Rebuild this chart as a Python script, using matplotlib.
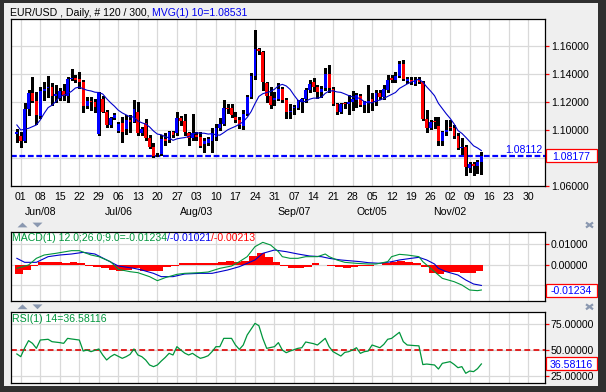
import matplotlib
matplotlib.use("Agg")
import matplotlib.pyplot as plt
from matplotlib.lines import Line2D
from matplotlib.patches import Rectangle, Polygon
import numpy as np
import pandas as pd

plt.rcParams["font.family"] = ["Liberation Sans", "DejaVu Sans"]
FS = 7.6
W, H = 606, 392

# ---------------- data ----------------
# trading-day axis: bar 0 = 2015-05-29, empty business days continue to the right edge
dates = pd.bdate_range("2015-05-29", periods=136)

opens = [1.0969, 1.0957, 1.0924, 1.1150, 1.1262, 1.1207, 1.1103, 1.1279, 1.1298, 1.1310,
         1.1245, 1.1226, 1.1279, 1.1245, 1.1364, 1.1369, 1.1364, 1.1341, 1.1174, 1.1205,
         1.1198, 1.0972, 1.1222, 1.1126, 1.1036, 1.1088, 1.0993, 1.1050, 1.1005, 1.1072,
         1.1060, 1.1126, 1.0981, 1.1048, 1.0941, 1.0879, 1.0826, 1.0826, 1.0936, 1.0929,
         1.0983, 1.0976, 1.1083, 1.1064, 1.0976, 1.0941, 1.0964, 1.0953, 1.0903, 1.0905,
         1.0922, 1.0953, 1.1012, 1.1043, 1.1160, 1.1155, 1.1095, 1.1072, 1.1031, 1.1114,
         1.1238, 1.1386, 1.1579, 1.1560, 1.1333, 1.1245, 1.1214, 1.1222, 1.1293, 1.1214,
         1.1126, 1.1155, 1.1160, 1.1202, 1.1222, 1.1286, 1.1340, 1.1310, 1.1274, 1.1302,
         1.1398, 1.1293, 1.1186, 1.1126, 1.1191, 1.1183, 1.1202, 1.1214, 1.1245, 1.1179,
         1.1195, 1.1222, 1.1198, 1.1262, 1.1238, 1.1286, 1.1374, 1.1355, 1.1388, 1.1469,
         1.1350, 1.1357, 1.1331, 1.1355, 1.1340, 1.1079, 1.1017, 1.1064, 1.1029, 1.0922,
         1.0988, 1.1022, 1.1012, 1.0960, 1.0869, 1.0881, 1.0731, 1.0760, 1.0743, 1.0769]
highs = [1.1007, 1.0983, 1.1191, 1.1286, 1.1381, 1.1274, 1.1310, 1.1345, 1.1388, 1.1333,
         1.1321, 1.1298, 1.1326, 1.1381, 1.1436, 1.1393, 1.1417, 1.1357, 1.1238, 1.1238,
         1.1222, 1.1274, 1.1245, 1.1143, 1.1093, 1.1119, 1.1055, 1.1095, 1.1107, 1.1107,
         1.1214, 1.1202, 1.1024, 1.1076, 1.0964, 1.0905, 1.0838, 1.0964, 1.0976, 1.0993,
         1.0993, 1.1126, 1.1103, 1.1112, 1.0988, 1.1112, 1.0988, 1.0988, 1.0941, 1.0953,
         1.1012, 1.1045, 1.1083, 1.1214, 1.1183, 1.1183, 1.1126, 1.1095, 1.1143, 1.1250,
         1.1405, 1.1714, 1.1586, 1.1567, 1.1345, 1.1310, 1.1274, 1.1333, 1.1310, 1.1226,
         1.1183, 1.1179, 1.1214, 1.1226, 1.1298, 1.1357, 1.1369, 1.1321, 1.1317, 1.1440,
         1.1464, 1.1310, 1.1191, 1.1191, 1.1198, 1.1250, 1.1279, 1.1262, 1.1255, 1.1207,
         1.1321, 1.1262, 1.1286, 1.1286, 1.1321, 1.1393, 1.1393, 1.1417, 1.1493, 1.1500,
         1.1381, 1.1381, 1.1381, 1.1381, 1.1350, 1.1143, 1.1072, 1.1095, 1.1095, 1.0993,
         1.1072, 1.1072, 1.1036, 1.0976, 1.0941, 1.0893, 1.0774, 1.0774, 1.0786, 1.0845]
lows = [1.0917, 1.0881, 1.0917, 1.1107, 1.1202, 1.1041, 1.1083, 1.1214, 1.1238, 1.1179,
        1.1200, 1.1214, 1.1214, 1.1200, 1.1357, 1.1345, 1.1298, 1.1131, 1.1155, 1.1143,
        1.1126, 1.0964, 1.1126, 1.1024, 1.1024, 1.1079, 1.0988, 1.0912, 1.0969, 1.0988,
        1.1055, 1.0964, 1.0964, 1.0929, 1.0869, 1.0810, 1.0812, 1.0822, 1.0893, 1.0917,
        1.0953, 1.0964, 1.1036, 1.0964, 1.0893, 1.0929, 1.0929, 1.0881, 1.0845, 1.0893,
        1.0845, 1.0929, 1.1000, 1.1036, 1.1119, 1.1095, 1.1060, 1.1012, 1.1007, 1.1107,
        1.1226, 1.1364, 1.1545, 1.1286, 1.1202, 1.1155, 1.1179, 1.1214, 1.1198, 1.1083,
        1.1083, 1.1112, 1.1150, 1.1126, 1.1202, 1.1274, 1.1279, 1.1226, 1.1238, 1.1286,
        1.1274, 1.1179, 1.1112, 1.1119, 1.1155, 1.1112, 1.1143, 1.1167, 1.1174, 1.1131,
        1.1131, 1.1143, 1.1179, 1.1222, 1.1222, 1.1274, 1.1341, 1.1345, 1.1381, 1.1357,
        1.1333, 1.1326, 1.1321, 1.1333, 1.1072, 1.0988, 1.1007, 1.1012, 1.0893, 1.0893,
        1.0964, 1.1000, 1.0941, 1.0864, 1.0826, 1.0679, 1.0703, 1.0679, 1.0691, 1.0684]
closes = [1.0983, 1.0924, 1.1150, 1.1262, 1.1210, 1.1107, 1.1279, 1.1295, 1.1310, 1.1245,
          1.1257, 1.1279, 1.1245, 1.1364, 1.1374, 1.1355, 1.1341, 1.1174, 1.1207, 1.1198,
          1.1164, 1.1262, 1.1131, 1.1036, 1.1083, 1.1107, 1.1045, 1.0983, 1.1069, 1.1060,
          1.1150, 1.0976, 1.1007, 1.0941, 1.0881, 1.0815, 1.0829, 1.0933, 1.0924, 1.0988,
          1.0964, 1.1083, 1.1064, 1.0983, 1.0945, 1.0976, 1.0953, 1.0888, 1.0922, 1.0936,
          1.0976, 1.1012, 1.1043, 1.1155, 1.1150, 1.1107, 1.1072, 1.1036, 1.1114, 1.1238,
          1.1386, 1.1579, 1.1564, 1.1340, 1.1245, 1.1179, 1.1226, 1.1293, 1.1214, 1.1126,
          1.1136, 1.1164, 1.1207, 1.1222, 1.1286, 1.1326, 1.1310, 1.1274, 1.1293, 1.1398,
          1.1302, 1.1186, 1.1126, 1.1186, 1.1183, 1.1198, 1.1222, 1.1250, 1.1179, 1.1198,
          1.1207, 1.1198, 1.1262, 1.1238, 1.1293, 1.1357, 1.1355, 1.1388, 1.1469, 1.1364,
          1.1364, 1.1340, 1.1355, 1.1345, 1.1079, 1.1017, 1.1060, 1.1055, 1.0922, 1.0988,
          1.0998, 1.1012, 1.0960, 1.0869, 1.0881, 1.0738, 1.0755, 1.0746, 1.0774, 1.0817]

# 10-day moving average as drawn (bar index, value)
ma_points = [(0, 1.1036), (1, 1.1000), (3, 1.1012), (5, 1.1036), (6, 1.1072), (7, 1.1119), (8, 1.1160),
             (9, 1.1177), (10, 1.1204), (11, 1.1239), (12, 1.1249), (13, 1.1259), (14, 1.1276),
             (15, 1.1300), (16, 1.1307), (17, 1.1294), (18, 1.1284), (19, 1.1279), (20, 1.1270),
             (21, 1.1268), (22, 1.1257), (23, 1.1224), (24, 1.1195), (25, 1.1170), (26, 1.1141),
             (27, 1.1122), (28, 1.1108), (29, 1.1094), (30, 1.1093), (31, 1.1064), (32, 1.1052),
             (33, 1.1042), (34, 1.1022), (35, 1.0993), (36, 1.0971), (37, 1.0966), (38, 1.0952),
             (39, 1.0944), (40, 1.0926), (41, 1.0937), (42, 1.0942), (43, 1.0946), (44, 1.0953),
             (45, 1.0969), (46, 1.0981), (47, 1.0977), (48, 1.0977), (49, 1.0971), (50, 1.0973),
             (51, 1.0966), (52, 1.0963), (53, 1.0981), (54, 1.1001), (55, 1.1014), (56, 1.1026),
             (57, 1.1041), (58, 1.1060), (59, 1.1090), (60, 1.1131), (61, 1.1188), (62, 1.1240),
             (63, 1.1259), (64, 1.1268), (65, 1.1275), (66, 1.1291), (67, 1.1316), (68, 1.1326),
             (69, 1.1315), (70, 1.1290), (71, 1.1249), (72, 1.1213), (73, 1.1201), (74, 1.1205),
             (75, 1.1220), (76, 1.1228), (77, 1.1227), (78, 1.1234), (79, 1.1262), (80, 1.1278),
             (81, 1.1280), (82, 1.1272), (83, 1.1269), (84, 1.1258), (85, 1.1246), (86, 1.1237),
             (87, 1.1234), (88, 1.1223), (89, 1.1203), (90, 1.1194), (91, 1.1195), (92, 1.1208),
             (93, 1.1214), (94, 1.1225), (95, 1.1240), (96, 1.1254), (97, 1.1268), (98, 1.1297),
             (99, 1.1313), (100, 1.1329), (101, 1.1343), (102, 1.1352), (103, 1.1363), (104, 1.1342),
             (105, 1.1308), (106, 1.1278), (107, 1.1245), (108, 1.1190), (109, 1.1153), (110, 1.1116),
             (111, 1.1083), (112, 1.1044), (113, 1.0996), (114, 1.0976), (115, 1.0948), (116, 1.0918),
             (117, 1.0887), (118, 1.0872), (119, 1.0853)]

macd_points = [(0, -0.00187), (3, -0.00024), (5, 0.00301), (7, 0.00463), (10, 0.00545), (14, 0.00675),
               (16, 0.00675), (19, 0.00463), (21, 0.00382), (24, 0.00138), (26, -0.00236), (29, -0.0035),
               (31, -0.00398), (34, -0.00593), (36, -0.00789), (38, -0.00642), (41, -0.0048), (43, -0.00431),
               (47, -0.00398), (49, -0.00366), (52, -0.00187), (55, -0.00073), (57, 0.00138), (59, 0.00382),
               (61, 0.0087), (63, 0.01081), (65, 0.00951), (67, 0.00626), (68, 0.00382), (70, 0.00301),
               (72, 0.00301), (74, 0.00382), (77, 0.00382), (79, 0.00512), (80, 0.00382), (82, 0.0022),
               (84, 0.00106), (87, 0.00057), (90, 0.00024), (92, 0.00024), (95, 0.00138), (96, 0.00382),
               (98, 0.00496), (100, 0.00463), (103, 0.00382), (104, 0.00138), (106, -0.00187), (108, -0.00512),
               (109, -0.00675), (112, -0.00837), (114, -0.01), (116, -0.01244), (118, -0.01276), (119, -0.01244)]
signal_points = [(0, 0.00301), (2, 0.00106), (5, 0.00106), (8, 0.00382), (11, 0.00463), (14, 0.00512),
                 (17, 0.00593), (20, 0.00512), (23, 0.0022), (26, -0.00073), (30, -0.00187), (32, -0.00268),
                 (35, -0.00431), (37, -0.00593), (40, -0.00593), (43, -0.00463), (47, -0.00431), (50, -0.00431),
                 (54, -0.00268), (57, -0.00106), (61, 0.0022), (63, 0.00545), (66, 0.00707), (69, 0.00626),
                 (72, 0.00512), (75, 0.00415), (78, 0.00382), (80, 0.00301), (83, 0.0022), (85, 0.00187),
                 (88, 0.00138), (90, 0.00089), (93, 0.00057), (96, 0.00138), (98, 0.0022), (101, 0.00301),
                 (103, 0.0035), (105, 0.0022), (107, 0.00024), (108, -0.00187), (110, -0.0035), (113, -0.00512),
                 (115, -0.00756), (117, -0.00951), (119, -0.01021)]
hist_points = [(0, -0.00455), (2, -0.00244), (4, -0.00049), (6, 0.00098), (8, 0.0013), (10, 0.00098),
               (12, 0.00081), (14, 0.00098), (16, 0.00049), (18, -0.00081), (20, -0.0013), (22, -0.00163),
               (24, -0.00244), (26, -0.00325), (28, -0.00244), (30, -0.00195), (32, -0.00293), (34, -0.00325),
               (36, -0.00293), (38, -0.0013), (40, -0.00049), (42, 0.00081), (44, 0.00081), (46, 0.00049),
               (48, 0.00049), (50, 0.00081), (52, 0.00098), (54, 0.00195), (56, 0.0013), (58, 0.00163),
               (60, 0.00407), (62, 0.00569), (64, 0.00358), (66, 0.0013), (68, -0.00081), (70, -0.00163),
               (72, -0.00195), (74, -0.0013), (76, 0.00049), (78, -0.00033), (80, -0.00049), (82, -0.0013),
               (84, -0.00163), (86, -0.0013), (88, -0.00081), (90, -0.00049), (92, -0.00033), (94, 0.00049),
               (96, 0.0013), (98, 0.00195), (100, 0.00098), (102, 0.00049), (104, -0.0013), (106, -0.00407),
               (108, -0.00455), (110, -0.00358), (112, -0.00358), (114, -0.00407), (116, -0.00407),
               (118, -0.00325)]

rsi_points = [(0, 46.2), (1, 43.6), (2, 52.0), (3, 59.0), (4, 56.4), (5, 51.6), (6, 59.6), (8, 60.3),
              (9, 58.0), (11, 57.1), (12, 56.4), (13, 61.2), (14, 60.6), (16, 59.6), (17, 49.0), (18, 50.0),
              (19, 48.4), (21, 51.0), (22, 45.2), (23, 40.4), (24, 43.6), (25, 45.8), (27, 42.0), (28, 43.6),
              (29, 45.8), (30, 51.0), (31, 45.2), (32, 43.6), (33, 40.4), (34, 35.6), (35, 34.0), (36, 35.6),
              (37, 39.4), (38, 42.8), (39, 46.8), (40, 45.2), (41, 53.2), (42, 50.0), (43, 47.0), (44, 45.2),
              (45, 46.8), (46, 44.2), (47, 42.0), (48, 43.0), (49, 44.5), (50, 48.4), (51, 53.2), (52, 53.2),
              (53, 61.2), (55, 61.2), (56, 54.8), (57, 50.6), (58, 54.8), (59, 64.4), (61, 75.6), (62, 73.4),
              (63, 61.2), (64, 51.6), (66, 53.2), (67, 57.1), (68, 50.0), (69, 47.4), (70, 49.0), (72, 51.6),
              (73, 52.2), (74, 57.7), (76, 56.1), (77, 54.8), (79, 61.2), (80, 53.2), (81, 48.4), (83, 44.2),
              (84, 47.7), (85, 48.4), (86, 50.0), (87, 52.2), (88, 46.8), (89, 48.4), (90, 49.0), (91, 54.8),
              (93, 52.2), (94, 55.4), (95, 60.3), (96, 61.2), (98, 67.0), (99, 58.0), (100, 54.8), (102, 54.2),
              (103, 54.0), (104, 36.0), (105, 36.5), (107, 35.6), (108, 31.7), (109, 37.2), (110, 38.0),
              (111, 38.8), (112, 36.2), (113, 33.0), (114, 34.0), (115, 27.6), (116, 29.8), (117, 29.2),
              (118, 32.0), (119, 36.58116)]

support_level = 1.08112
last_close = 1.08177
macd_label = ["-0.01234", "-0.01021", "-0.00213"]
rsi_label = "36.58116"

price_ticks = [1.06, 1.08, 1.10, 1.12, 1.14, 1.16]
macd_ticks = [0.01, 0.0, -0.01]
rsi_ticks = [25, 50, 75]

month_dates = ["2015-06-08", "2015-07-06", "2015-08-03", "2015-09-07", "2015-10-05", "2015-11-02"]
month_labels = ["Jun/08", "Jul/06", "Aug/03", "Sep/07", "Oct/05", "Nov/02"]

# ---------------- colours ----------------
UP, DOWN = "#0000ff", "#ff0000"
GREEN = "#00963c"
NAVY = "#0000cc"
GRID = "#d9d9d9"
ICON = "#8a98b0"
FRAME = "#303030"

# ---------------- figure / panels ----------------
fig = plt.figure(figsize=(W / 100, H / 100), dpi=100, facecolor="#efefef")


def px_box(x0, y0, x1, y1):
    # pixel box with top-left origin -> figure fraction [l, b, w, h]
    return [x0 / W, 1 - y1 / H, (x1 - x0) / W, (y1 - y0) / H]


ax = fig.add_axes(px_box(11, 19, 545, 186))
ax_macd = fig.add_axes(px_box(11, 232, 545, 301))
ax_rsi = fig.add_axes(px_box(11, 312, 545, 383))

mondays = [p for p, d in enumerate(dates) if d.weekday() == 0]

for a in (ax, ax_macd, ax_rsi):
    a.set_facecolor("white")
    a.set_xlim(-1.5, 135.3)
    a.set_xticks(mondays)
    a.grid(True, color=GRID, lw=0.9)
    a.set_axisbelow(True)
    a.yaxis.tick_right()
    a.tick_params(axis="y", direction="out", length=3, width=0.9, color="red",
                  labelcolor="black", labelsize=FS, pad=1.2)
    a.tick_params(axis="x", length=0)
    for s in a.spines.values():
        s.set_color("black")
        s.set_linewidth(0.9)

# --- price panel ---
o = np.array(opens)
h = np.array(highs)
l = np.array(lows)
c = np.array(closes)
x = np.arange(len(o))
colors = np.where(c >= o, UP, DOWN)

ax.axhline(support_level, color="#0000ff", lw=1.6, ls=(0, (2.6, 1.2)), zorder=1.5)
ax.vlines(x, l, h, color="black", lw=0.8, zorder=2, antialiased=False)
ax.bar(x, np.maximum(np.abs(c - o), 0.00012), bottom=np.minimum(o, c), width=0.72,
       color=colors, linewidth=0, zorder=3, antialiased=False)
ma_x, ma_y = zip(*ma_points)
ax.plot(ma_x, ma_y, color=NAVY, lw=0.8, zorder=4)

ax.set_ylim(1.0600, 1.1793)
ax.set_xticklabels([dates[p].strftime("%d") for p in mondays], fontsize=FS)
ax.tick_params(axis="x", pad=4)
for md, ml in zip(month_dates, month_labels):
    ax.text(dates.get_loc(pd.Timestamp(md)), -0.155, ml, transform=ax.get_xaxis_transform(),
            ha="center", va="center", fontsize=FS)
ax.annotate(f"{support_level:.5f}", xy=(1, support_level), xycoords=("axes fraction", "data"),
            xytext=(-1.5, 1.0), textcoords="offset points", ha="right", va="bottom",
            color="#0000ff", fontsize=FS)

# --- MACD panel ---
hx, hy = zip(*hist_points)
ax_macd.bar(np.array(hx) + 0.5, hy, width=2, color=DOWN, linewidth=0, zorder=2)
mx, my = zip(*macd_points)
sx, sy = zip(*signal_points)
ax_macd.plot(sx, sy, color=NAVY, lw=0.8, zorder=3)
ax_macd.plot(mx, my, color=GREEN, lw=0.8, zorder=4)
ax_macd.set_ylim(-0.017805, 0.015854)
ax_macd.tick_params(axis="x", labelbottom=False)

# --- RSI panel ---
rx, ry = zip(*rsi_points)
ax_rsi.axhline(50, color="#e00000", lw=1.2, ls=(0, (3.5, 2)), zorder=2)
ax_rsi.plot(rx, ry, color=GREEN, lw=0.9, zorder=3)
ax_rsi.set_ylim(18.27, 86.54)
ax_rsi.tick_params(axis="x", labelbottom=False)

# ---------------- header texts ----------------
renderer = fig.canvas.get_renderer()


def text_run(x_px, y_px, pieces):
    xf = x_px / W
    for s, col, gap in pieces:
        xf += gap / W
        t = fig.text(xf, 1 - y_px / H, s, color=col, fontsize=FS, ha="left", va="baseline")
        xf = t.get_window_extent(renderer=renderer).x1 / W


text_run(10, 16.5, [("EUR/USD , Daily, # 120 / 300,", "black", 0),
                    ("MVG(1) 10=1.08531", "#0000ee", 3)])
text_run(11.5, 241, [("MACD(1) 12.0;26.0;9.0=" + macd_label[0], GREEN, 0),
                     ("/" + macd_label[1], "#0000ee", 0),
                     ("/" + macd_label[2], DOWN, 0.5)])
text_run(11.5, 322.5, [("RSI(1) 14=" + rsi_label, GREEN, 0)])


# ---------------- right axis labels and last-value boxes ----------------
def value_box(a, value, label, ticks):
    y = a.transData.transform((0, value))[1]
    # tick labels hidden behind the value box are left blank
    tick_y = [a.transData.transform((0, t))[1] for t in ticks]
    a.set_yticks(ticks)
    a.set_yticklabels(["" if abs(ty - y) < 11 else f"{t:.5f}" for t, ty in zip(ticks, tick_y)])
    fig.add_artist(Rectangle((546 / W, (y - 6.5) / H), 51 / W, 13 / H, transform=fig.transFigure,
                             facecolor="white", edgecolor="red", lw=0.9, zorder=10))
    fig.text(571.5 / W, y / H, label, ha="center", va="center_baseline", color="#0000ff",
             fontsize=FS, zorder=11)


value_box(ax, last_close, f"{last_close:.5f}", price_ticks)
value_box(ax_macd, my[-1], macd_label[0], macd_ticks)
value_box(ax_rsi, rsi_points[-1][1], rsi_label, rsi_ticks)

# ---------------- panel controls and frame ----------------
for yc in (225.0, 306.8):
    fig.add_artist(Polygon([(17.5 / W, 1 - (yc + 2.4) / H), (27.5 / W, 1 - (yc + 2.4) / H),
                            (22.5 / W, 1 - (yc - 2.4) / H)], closed=True,
                           transform=fig.transFigure, color=ICON, lw=0))
    fig.add_artist(Polygon([(32.5 / W, 1 - (yc - 2.4) / H), (42.5 / W, 1 - (yc - 2.4) / H),
                            (37.5 / W, 1 - (yc + 2.4) / H)], closed=True,
                           transform=fig.transFigure, color=ICON, lw=0))
    for (xa, ya, xb, yb) in ((586, yc - 2.5, 593, yc + 2.5), (586, yc + 2.5, 593, yc - 2.5)):
        fig.add_artist(Line2D([xa / W, xb / W], [1 - ya / H, 1 - yb / H], transform=fig.transFigure,
                              color=ICON, lw=1.6, solid_capstyle="butt"))

for (x0, y0, x1, y1) in ((0, 0, W, 3), (0, 0, 4, H), (598, 0, W, H), (0, 386, W, H)):
    fig.add_artist(Rectangle((x0 / W, 1 - y1 / H), (x1 - x0) / W, (y1 - y0) / H,
                             transform=fig.transFigure, facecolor=FRAME, lw=0, zorder=20))

fig.savefig("out.png", dpi=100, facecolor=fig.get_facecolor())
